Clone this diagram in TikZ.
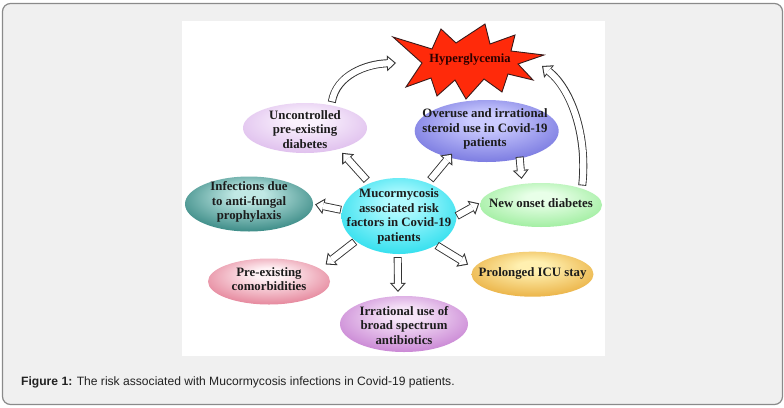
\documentclass[tikz,border=0pt]{standalone}
\usepackage{fontspec}
\setmainfont{Liberation Serif}
\newfontfamily\capfont{Liberation Sans}
\usetikzlibrary{arrows.meta,shapes.geometric}

\definecolor{framec}{HTML}{8A8A8A}
\definecolor{bgc}{HTML}{F0F0F0}
\definecolor{txtc}{HTML}{1C1C1C}
\definecolor{capc}{HTML}{222222}
\definecolor{arrowc}{HTML}{333333}
\definecolor{starfill}{HTML}{FF2A0A}
\definecolor{starline}{HTML}{3A1A1A}
\definecolor{hyptxt}{HTML}{2A0000}
\definecolor{unc1}{HTML}{FAF2FD}\definecolor{unc2}{HTML}{D6AEE8}
\definecolor{ov1}{HTML}{CCCCFF}\definecolor{ov2}{HTML}{5E5ED6}
\definecolor{inf1}{HTML}{C0E8E4}\definecolor{inf2}{HTML}{0C6A65}
\definecolor{cen1}{HTML}{B0FAFF}\definecolor{cen2}{HTML}{08D6E8}
\definecolor{nod1}{HTML}{E8FFE8}\definecolor{nod2}{HTML}{88E888}
\definecolor{com1}{HTML}{FFF2F5}\definecolor{com2}{HTML}{DC607C}
\definecolor{icu1}{HTML}{FFF0B0}\definecolor{icu2}{HTML}{E49E22}
\definecolor{irr1}{HTML}{F6E4F8}\definecolor{irr2}{HTML}{BA66C8}

\colorlet{ellin}{white}
\colorlet{ellout}{black}
\pgfdeclareradialshading[ellin,ellout]{ellsh}{\pgfpoint{0bp}{10bp}}{%
  color(0bp)=(ellin); color(6bp)=(ellin); color(38bp)=(ellout); color(50bp)=(ellout)}

\tikzset{
  ell/.style 2 args={ellipse, inner sep=0pt, shade, shading=ellsh,
    /utils/exec={\colorlet{ellin}{#1}\colorlet{ellout}{#2}}},
  lbl/.style={align=center, inner sep=0pt, text=txtc,
    font=\fontsize{12.8}{14.5}\selectfont\bfseries},
  hollow/.style 2 args={draw=arrowc, line width=8pt,
    shorten <=#1, shorten >=#2,
    -{Triangle[length=9pt,width=16pt,line width=0pt]},
    postaction={draw=white, line width=6.2pt,
      shorten <=#1+0.9pt, shorten >=#2+1.6pt,
      -{Triangle[length=6.4pt,width=11.4pt,line width=0pt]}}},
  starshape/.style={fill=starfill, draw=starline, line width=0.9pt, line join=miter},
}

\begin{document}
\begin{tikzpicture}[x=1pt,y=-1pt]
\useasboundingbox (0,0) rectangle (784,407);
\fill[white] (0,0) rectangle (784,407);
\draw[fill=bgc, draw=framec, line width=1.2pt, rounded corners=8pt] (2.5,3.5) rectangle (782.5,404.5);
\fill[white] (182,21) rectangle (605,356);

% starburst
\draw[starshape] (393,37) -- (432,49) -- (441,29) -- (456,43) -- (485,24) -- (490,44)
  -- (515,35) -- (511,51) -- (544,55) -- (518,64) -- (533,80) -- (508,74)
  -- (502,92) -- (484,79) -- (466,99) -- (455,80) -- (437,96) -- (431,78)
  -- (406,87) -- (422,63) -- cycle;
\node[lbl, text=hyptxt, font=\fontsize{12.5}{14}\selectfont\bfseries] (hyp) at (470,60) {Hyperglycemia};
\coordinate (hypL) at (396,63);
\coordinate (hypR) at (542,66);

% ellipses
\node[ell={unc1}{unc2}, minimum width=124pt, minimum height=50pt] (unc) at (305,128) {};
\node[ell={ov1}{ov2}, minimum width=144pt, minimum height=62pt] (ov) at (486.7,131) {};
\node[ell={inf1}{inf2}, minimum width=128pt, minimum height=55pt] (inf) at (249,204) {};
\node[ell={cen1}{cen2}, minimum width=115pt, minimum height=76pt] (cen) at (399,216) {};
\node[ell={nod1}{nod2}, minimum width=122pt, minimum height=44pt] (nod) at (541,205) {};
\node[ell={com1}{com2}, minimum width=122pt, minimum height=46pt] (com) at (269,281.5) {};
\node[ell={icu1}{icu2}, minimum width=122pt, minimum height=45pt] (icu) at (532.5,274.2) {};
\node[ell={irr1}{irr2}, minimum width=128pt, minimum height=56pt] (irr) at (404,324) {};

\node[lbl] (tunc) at (305,129.5) {Uncontrolled\\pre-existing\\diabetes};
\node[lbl] (tov) at (485,129) {Overuse and irrational\\steroid use in Covid-19\\patients};
\node[lbl] (tinf) at (249,202) {Infections due\\to anti-fungal\\prophylaxis};
\node[lbl] (tcen) at (399,216.5) {Mucormycosis\\associated risk\\factors in Covid-19\\patients};
\node[lbl] (tnod) at (541,203.5) {New onset diabetes};
\node[lbl] (tcom) at (269,279) {Pre-existing\\comorbidities};
\node[lbl] (ticu) at (532.5,273.5) {Prolonged ICU stay};
\node[lbl] (tirr) at (404,325.5) {Irrational use of\\broad spectrum\\antibiotics};

% straight block arrows
\draw[hollow={4pt}{5pt}] (cen.132) -- (unc.-32);
\draw[hollow={4pt}{-5pt}] (cen.49) -- (ov.215);
\draw[hollow={-2pt}{5pt}] (ov.-40) -- (nod.132);
\draw[hollow={1pt}{2pt}] (cen.174) -- (inf.0);
\draw[hollow={0pt}{1pt}] (cen.0) -- (nod.178);
\draw[hollow={1pt}{7pt}] (cen.210) -- (com.14);
\draw[hollow={3pt}{4pt}] (cen.268) -- (irr.102);
\draw[hollow={0.5pt}{6.5pt}] (cen.-38) -- (icu.174);

% curved block arrows
\draw[hollow={3pt}{0pt}] (unc.41) .. controls +(5,-30) and +(-30,1) .. (hypL);
\draw[hollow={3pt}{0pt}] (nod.22) .. controls +(6,-55) and +(28,22) .. (hypR);

% caption
\node[anchor=base west, inner sep=0pt, text=capc, font=\capfont\fontsize{12.1}{13.5}\selectfont] (cap) at (21,385)
  {\textbf{Figure 1:} The risk associated with Mucormycosis infections in Covid-19 patients.};
\end{tikzpicture}
\end{document}
